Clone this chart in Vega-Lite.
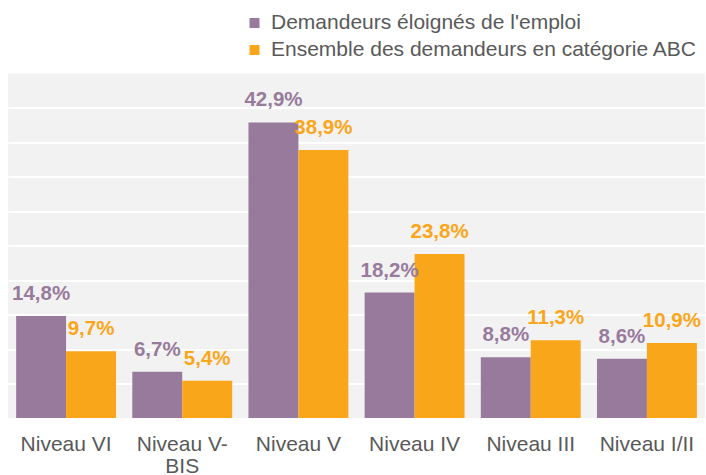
{
  "$schema": "https://vega.github.io/schema/vega-lite/v6.json",
  "width": 697,
  "height": 344.5,
  "autosize": {"type": "none"},
  "padding": {"left": 8, "top": 73.5, "right": 1, "bottom": 57},
  "background": "white",
  "config": {"view": {"fill": "#F2F2F2", "stroke": null}, "font": "Liberation Sans"},
  "data": {
    "values": [
      {"niveau": "Niveau VI", "serie": "Demandeurs éloignés de l'emploi", "valeur": 14.8, "etiquette": "14,8%"},
      {"niveau": "Niveau VI", "serie": "Ensemble des demandeurs en catégorie ABC", "valeur": 9.7, "etiquette": "9,7%"},
      {"niveau": "Niveau V-BIS", "serie": "Demandeurs éloignés de l'emploi", "valeur": 6.7, "etiquette": "6,7%"},
      {"niveau": "Niveau V-BIS", "serie": "Ensemble des demandeurs en catégorie ABC", "valeur": 5.4, "etiquette": "5,4%"},
      {"niveau": "Niveau V", "serie": "Demandeurs éloignés de l'emploi", "valeur": 42.9, "etiquette": "42,9%"},
      {"niveau": "Niveau V", "serie": "Ensemble des demandeurs en catégorie ABC", "valeur": 38.9, "etiquette": "38,9%"},
      {"niveau": "Niveau IV", "serie": "Demandeurs éloignés de l'emploi", "valeur": 18.2, "etiquette": "18,2%"},
      {"niveau": "Niveau IV", "serie": "Ensemble des demandeurs en catégorie ABC", "valeur": 23.8, "etiquette": "23,8%"},
      {"niveau": "Niveau III", "serie": "Demandeurs éloignés de l'emploi", "valeur": 8.8, "etiquette": "8,8%"},
      {"niveau": "Niveau III", "serie": "Ensemble des demandeurs en catégorie ABC", "valeur": 11.3, "etiquette": "11,3%"},
      {"niveau": "Niveau I/II", "serie": "Demandeurs éloignés de l'emploi", "valeur": 8.6, "etiquette": "8,6%"},
      {"niveau": "Niveau I/II", "serie": "Ensemble des demandeurs en catégorie ABC", "valeur": 10.9, "etiquette": "10,9%"}
    ]
  },
  "encoding": {
    "x": {
      "field": "niveau", "type": "nominal", "sort": null,
      "scale": {"paddingInner": 0.14, "paddingOuter": 0.07},
      "axis": {
        "title": null, "labelAngle": 0, "ticks": false, "domain": false,
        "labelFontSize": 21, "labelColor": "#595959", "labelPadding": 15,
        "labelBaseline": "top", "labelLineHeight": 22,
        "labelExpr": "datum.label == 'Niveau V-BIS' ? ['Niveau V-', 'BIS'] : datum.label"
      }
    },
    "xOffset": {
      "field": "serie", "type": "nominal",
      "sort": ["Demandeurs éloignés de l'emploi", "Ensemble des demandeurs en catégorie ABC"],
      "scale": {"paddingInner": 0, "paddingOuter": 0}
    },
    "y": {
      "field": "valeur", "type": "quantitative",
      "scale": {"domain": [0, 50], "nice": false},
      "axis": {
        "title": null, "labels": false, "ticks": false, "domain": false,
        "gridColor": "white", "gridWidth": 2, "gridOpacity": 1,
        "values": [5, 10, 15, 20, 25, 30, 35, 40, 45]
      }
    },
    "color": {
      "field": "serie", "type": "nominal",
      "scale": {
        "domain": ["Demandeurs éloignés de l'emploi", "Ensemble des demandeurs en catégorie ABC"],
        "range": ["#987B9C", "#FAA61A"]
      },
      "legend": {
        "orient": "none", "legendX": 236, "legendY": -61, "title": null,
        "symbolType": "square", "symbolSize": 100, "symbolStrokeWidth": 0,
        "labelFontSize": 21, "labelColor": "#595959", "labelOffset": 6,
        "rowPadding": 5, "labelLimit": 600
      }
    }
  },
  "layer": [
    {"mark": {"type": "bar"}},
    {
      "mark": {"type": "text", "fontWeight": "bold", "fontSize": 20.5, "baseline": "alphabetic", "dy": -16},
      "encoding": {"text": {"field": "etiquette"}}
    }
  ]
}
